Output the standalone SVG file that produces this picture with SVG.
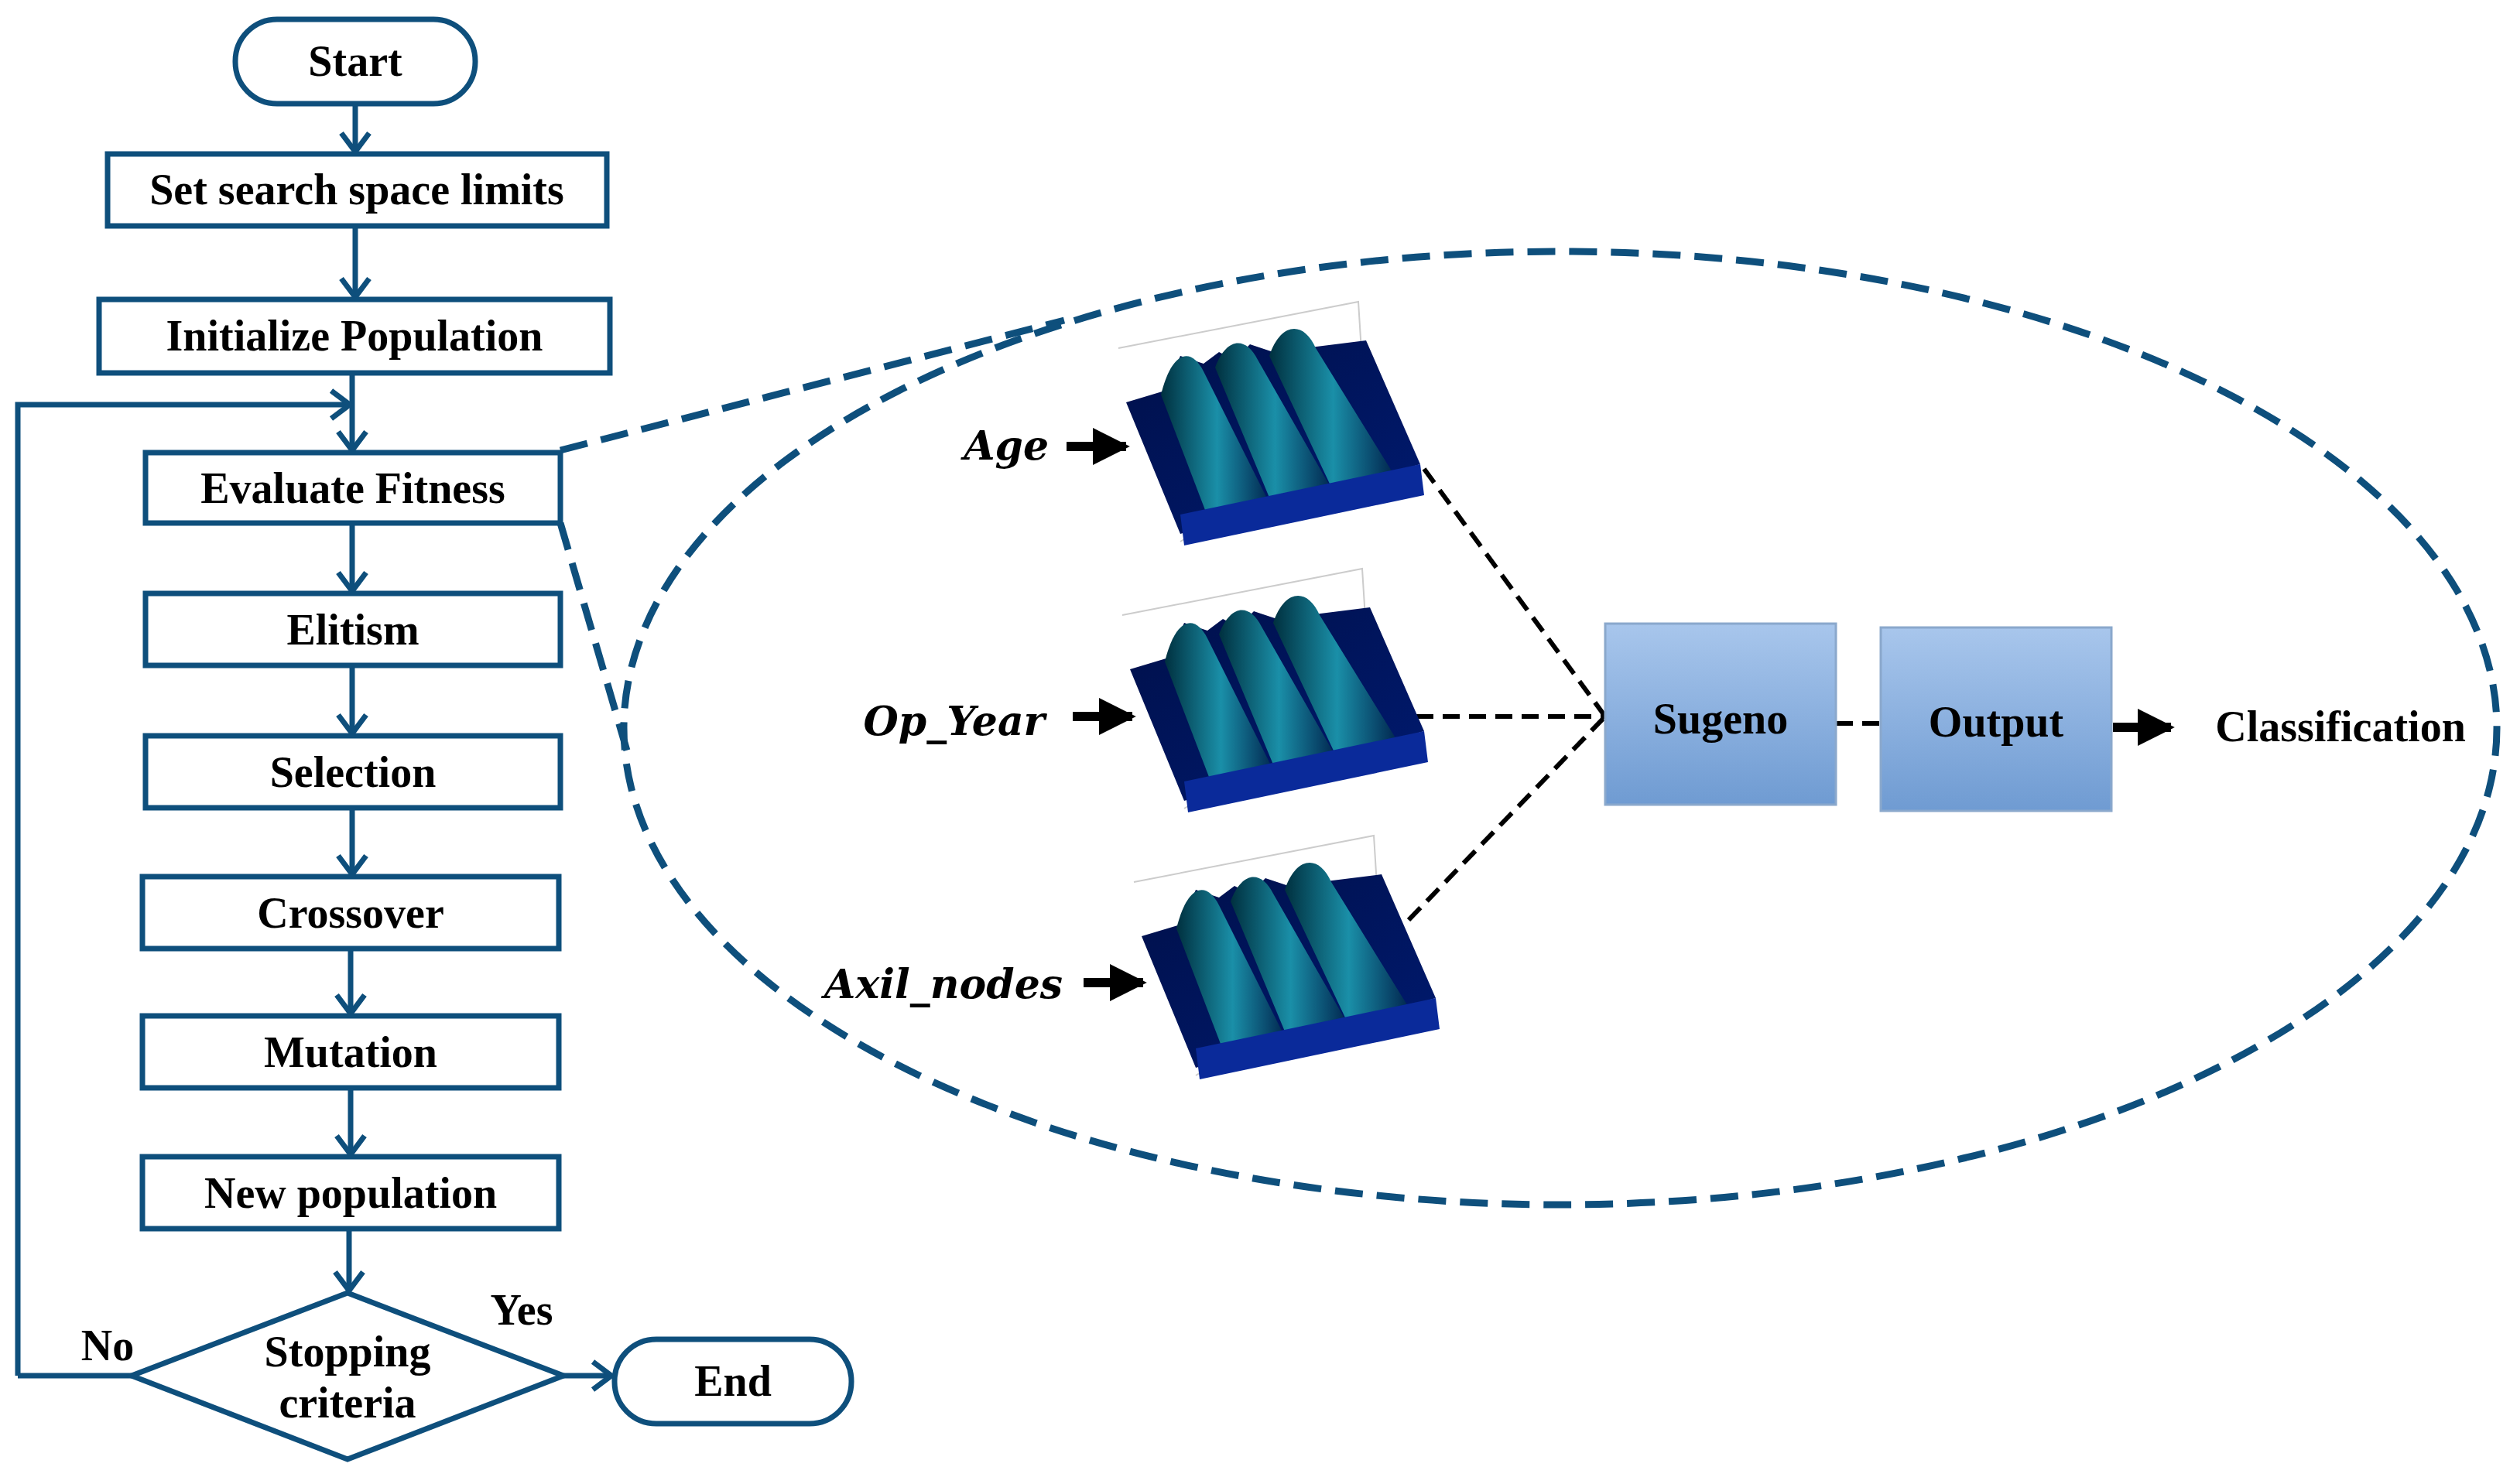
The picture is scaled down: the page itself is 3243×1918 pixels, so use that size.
<svg xmlns="http://www.w3.org/2000/svg" width="3243" height="1918" viewBox="0 0 3243 1918">
<defs>
<style>
.b{fill:#fff;stroke:#0e4f7c;stroke-width:7}
.t{font-family:"Liberation Serif",serif;font-weight:bold;font-size:56px;text-anchor:middle;fill:#000}
.i{font-family:"DejaVu Serif",serif;font-style:italic;font-weight:bold;font-size:52px;fill:#000;text-anchor:end}
.c{fill:none;stroke:#0e4f7c;stroke-width:7}
.bd{fill:none;stroke:#000;stroke-width:6;stroke-dasharray:22 12}
.bl{fill:none;stroke:#0e4f7c;stroke-width:9;stroke-dasharray:36 18}
</style>
<marker id="a" viewBox="-2 -2 34 44" refX="28" refY="20" markerWidth="34" markerHeight="44" markerUnits="userSpaceOnUse" orient="auto"><path d="M4,2 L28,20 L4,38" fill="none" stroke="#0e4f7c" stroke-width="7"/></marker>
<marker id="k" viewBox="0 0 10 10" refX="9" refY="5" markerWidth="4" markerHeight="4" orient="auto"><path d="M0,0L10,5L0,10z" fill="#000"/></marker>
<linearGradient id="g" x1="0" y1="0" x2="0" y2="1"><stop offset="0" stop-color="#a8c6ec"/><stop offset="1" stop-color="#6f9bd2"/></linearGradient>
<linearGradient id="s" x1="0" y1="0" x2="1" y2="1"><stop offset="0" stop-color="#00104a"/><stop offset="1" stop-color="#001a70"/></linearGradient>
<linearGradient id="p" x1="0" y1="0" x2="1" y2="0"><stop offset="0" stop-color="#00303f"/><stop offset="0.5" stop-color="#1a8fa8"/><stop offset="1" stop-color="#00204a"/></linearGradient>
<g id="plot">
<path d="M0,50 L310,-10 L320,150 L80,300" fill="none" stroke="#ccc" stroke-width="2"/>
<path d="M10,120 L60,105 L80,60 L110,70 L130,55 L150,65 L170,45 L200,55 L320,40 L390,200 L80,290z" fill="url(#s)"/>
<path d="M55,110 C70,50 95,50 110,80 L200,260 L120,280z" fill="url(#p)"/>
<path d="M125,75 C140,35 165,35 180,65 L280,240 L200,255z" fill="url(#p)"/>
<path d="M195,60 C210,15 240,15 255,50 L360,220 L280,240z" fill="url(#p)"/>
<path d="M80,265 L390,200 L395,240 L85,305z" fill="#0a2a9a"/>
</g>
</defs>
<rect width="3243" height="1918" fill="#fff"/>
<g id="connectors">
<path class="c" d="M459,134V196" marker-end="url(#a)"/>
<path class="c" d="M459,292V384" marker-end="url(#a)"/>
<path class="c" d="M455,482V582" marker-end="url(#a)"/>
<path class="c" d="M23,1778V523H452" marker-end="url(#a)"/>
<path class="c" d="M455,676V764" marker-end="url(#a)"/>
<path class="c" d="M455,860V948" marker-end="url(#a)"/>
<path class="c" d="M455,1044V1130" marker-end="url(#a)"/>
<path class="c" d="M453,1226V1310" marker-end="url(#a)"/>
<path class="c" d="M453,1406V1492" marker-end="url(#a)"/>
<path class="c" d="M451,1588V1668" marker-end="url(#a)"/>
<path class="c" d="M728,1778H790" marker-end="url(#a)"/>
<path class="c" d="M170,1778H23"/>
<path class="bl" d="M724,582L1375,414"/>
<path class="bl" d="M724,676L810,970"/>
<path class="bd" d="M1840,606L2074,926"/>
<path class="bd" d="M1830,926L2074,926"/>
<path class="bd" d="M1820,1189L2074,926"/>
<path class="bd" d="M2372,935L2430,935"/>
<path d="M1378,577H1455" stroke="#000" stroke-width="12" marker-end="url(#k)"/>
<path d="M1386,926H1463" stroke="#000" stroke-width="12" marker-end="url(#k)"/>
<path d="M1400,1270H1477" stroke="#000" stroke-width="12" marker-end="url(#k)"/>
<path d="M2730,940H2805" stroke="#000" stroke-width="12" marker-end="url(#k)"/>
</g>
<ellipse class="bl" cx="2016" cy="941" rx="1210" ry="616"/>
<g id="start"><rect class="b" x="304" y="25" width="310" height="109" rx="54"/><text class="t" x="459" y="98">Start</text></g>
<g id="setsearch"><rect class="b" x="139" y="199" width="645" height="93"/><text class="t" x="461" y="264">Set search space limits</text></g>
<g id="init"><rect class="b" x="128" y="387" width="660" height="95"/><text class="t" x="458" y="453">Initialize Population</text></g>
<g id="eval"><rect class="b" x="188" y="585" width="536" height="91"/><text class="t" x="456" y="650">Evaluate Fitness</text></g>
<g id="elitism"><rect class="b" x="188" y="767" width="536" height="93"/><text class="t" x="456" y="833">Elitism</text></g>
<g id="selection"><rect class="b" x="188" y="951" width="536" height="93"/><text class="t" x="456" y="1017">Selection</text></g>
<g id="crossover"><rect class="b" x="184" y="1133" width="538" height="93"/><text class="t" x="453" y="1199">Crossover</text></g>
<g id="mutation"><rect class="b" x="184" y="1313" width="538" height="93"/><text class="t" x="453" y="1379">Mutation</text></g>
<g id="newpop"><rect class="b" x="184" y="1495" width="538" height="93"/><text class="t" x="453" y="1561">New population</text></g>
<g id="stop"><path class="b" d="M449,1671L728,1778L449,1886L170,1778z"/><text class="t" x="449" y="1766">Stopping</text><text class="t" x="449" y="1832">criteria</text></g>
<g id="end"><rect class="b" x="794" y="1731" width="306" height="109" rx="54"/><text class="t" x="947" y="1804">End</text></g>
<text class="t" x="674" y="1712">Yes</text>
<text class="t" x="139" y="1758">No</text>
<g id="plots">
<use href="#plot" x="1445" y="400"/>
<use href="#plot" x="1450" y="745"/>
<use href="#plot" x="1465" y="1090"/>
</g>
<text class="i" x="1355" y="594">Age</text>
<text class="i" x="1350" y="950">Op_Year</text>
<text class="i" x="1373" y="1290">Axil_nodes</text>
<g id="sugeno"><rect x="2074" y="806" width="298" height="234" fill="url(#g)" stroke="#8aa8cc" stroke-width="3"/><text class="t" x="2223" y="948">Sugeno</text></g>
<g id="output"><rect x="2430" y="811" width="298" height="237" fill="url(#g)" stroke="#8aa8cc" stroke-width="3"/><text class="t" x="2579" y="952">Output</text></g>
<text class="t" x="3024" y="958">Classification</text>
</svg>
